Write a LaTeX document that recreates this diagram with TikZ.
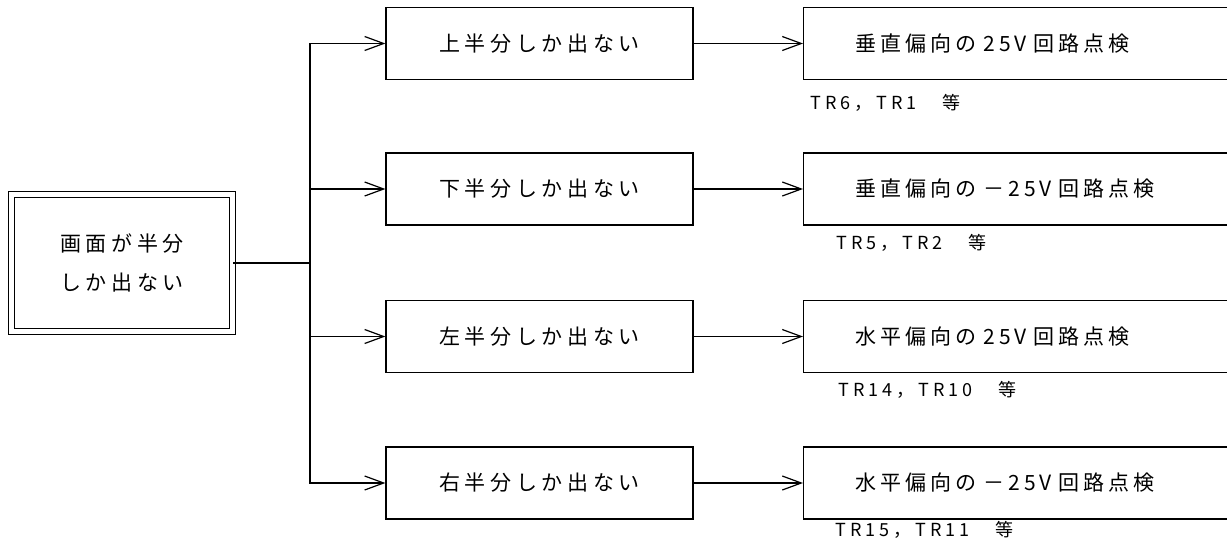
\documentclass[tikz,border=0pt]{standalone}
\usepackage{fontspec}
\setmainfont{Noto Sans CJK JP}
\newfontfamily\jpwide[LetterSpace=22]{Noto Sans CJK JP}
\newfontfamily\jpmid[LetterSpace=19]{Noto Sans CJK JP}
\newfontfamily\jpnote[LetterSpace=22]{Noto Sans CJK JP}
\usetikzlibrary{arrows.meta}
\tikzset{
	every path/.style={line width=1.2pt},
	arr/.style={-{Straight Barb[length=19pt,width=14pt,line width=1.2pt]}},
	startbox/.style={draw, double, double distance=5pt, minimum width=221pt, minimum height=137pt, align=center, font=\fontsize{21}{39}\selectfont\jpwide},
	midbox/.style={draw, minimum width=307pt, minimum height=72pt, font=\fontsize{21}{24}\selectfont\jpwide},
	chkbox/.style={draw, minimum height=72pt, text width=380pt, inner xsep=52pt, align=left, font=\fontsize{21}{24}\selectfont\jpmid},
	note/.style={inner sep=0pt, font=\fontsize{18}{20}\selectfont\jpnote}
}
\newcommand{\branch}[6] % name, y in px, middle text, check text, note position, note text
{
	% symptom box
	\node[midbox] (m#1) at (539.5,#2) {#3};
	% check box
	\node[chkbox, anchor=west] (c#1) at (803,#2) {#4};
	% connectors
	\draw[arr] (split) |- (m#1);
	\draw[arr] (m#1) -- (c#1);
	% transistors
	\node[note, anchor=west] (n#1) at #5 {#6};
}

\begin{document}
\begin{tikzpicture}[x=1pt, y=-1pt]
	% page: 1227 x 554 px, y downwards
	\useasboundingbox (0,0) rectangle (1227,554);
	% start
	\node[startbox] (start) at (122,263) {画面が半分\\しか出ない};
	\coordinate (split) at (310,263);
	\draw (start.east) -- (split);
	% four cases
	\branch{1}{43.5}{上半分しか出ない}{垂直偏向の 25V 回路点検}{(810,103)}{TR6，TR1　等};
	\branch{2}{189}{下半分しか出ない}{垂直偏向の －25V 回路点検}{(836,243)}{TR5，TR2　等};
	\branch{3}{336.5}{左半分しか出ない}{水平偏向の 25V 回路点検}{(838,390)}{TR14，TR10　等};
	\branch{4}{483}{右半分しか出ない}{水平偏向の －25V 回路点検}{(835,530)}{TR15，TR11　等};
\end{tikzpicture}
\end{document}
